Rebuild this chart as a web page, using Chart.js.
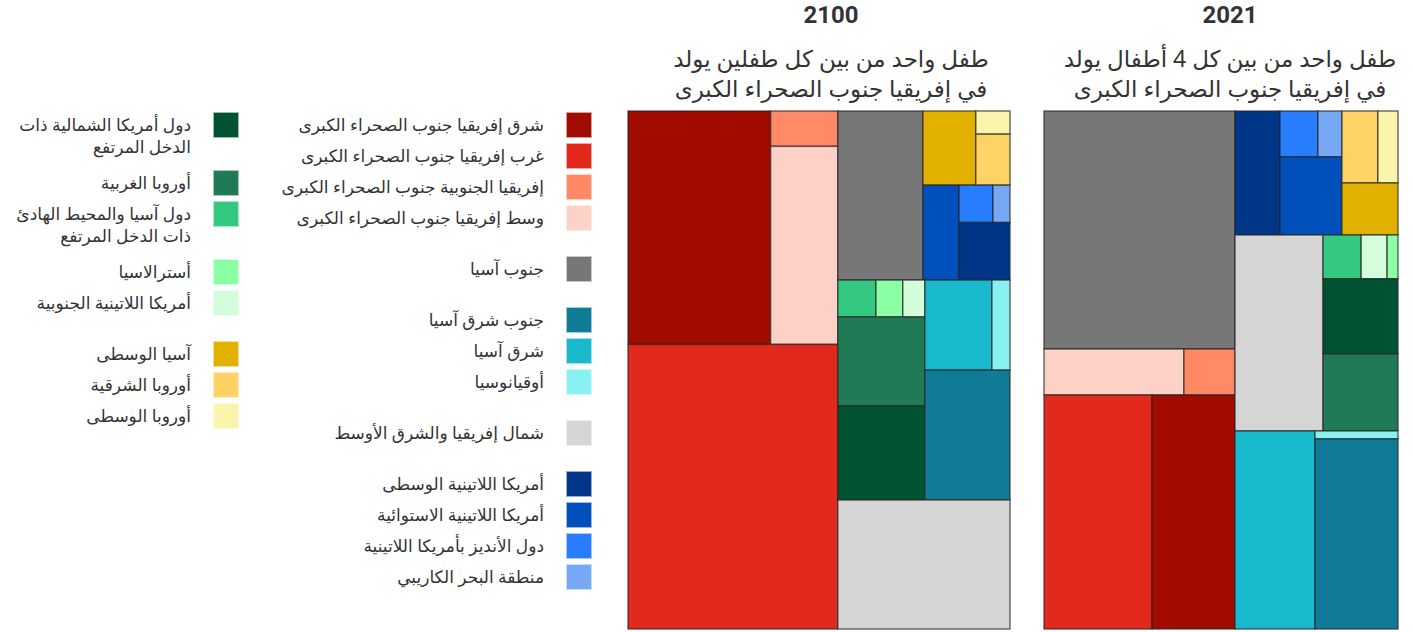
<!DOCTYPE html>
<html lang="ar">
<head>
<meta charset="utf-8">
<script src="https://cdn.jsdelivr.net/npm/chart.js@4.4.1/dist/chart.umd.min.js"></script>
<style>
  html, body { margin: 0; padding: 0; background: #fff; overflow: hidden; }
  body { width: 1413px; height: 632px; position: relative; font-family: "Noto Sans", "DejaVu Sans", sans-serif; color: #333; }
  .year { position: absolute; top: 0; width: 400px; text-align: center; font: bold 24px/30px Roboto, "Liberation Sans", sans-serif; color: #333; }
  .sub { position: absolute; top: 43px; width: 400px; text-align: center; font-size: 23px; line-height: 30px; color: #333; direction: rtl; }
  .legend { position: absolute; top: 112px; direction: rtl; }
  .group { margin-bottom: 20px; }
  .item { display: flex; align-items: flex-start; }
  .sw { width: 26px; height: 26px; flex: none; border: 1px solid rgba(255,255,255,0.6); box-sizing: border-box; }
  .lbl { font-size: 17px; line-height: 22px; padding: 2px 0 7px; }
  .wrap { position: absolute; }
</style>
</head>
<body>
<div class="year" style="left:631px">2100</div>
<div class="sub" style="left:631px">طفل واحد من بين كل طفلين يولد<br>في إفريقيا جنوب الصحراء الكبرى</div>
<div class="year" style="left:1030px">2021</div>
<div class="sub" style="left:1030px">طفل واحد من بين كل 4 أطفال يولد<br>في إفريقيا جنوب الصحراء الكبرى</div>

<div id="legend1" class="legend" style="left:0; width:239px"></div>
<div id="legend2" class="legend" style="left:260px; width:332px"></div>

<div class="wrap" style="left:626px; top:109px"><canvas id="chart2100" width="386" height="522"></canvas></div>
<div class="wrap" style="left:1042px; top:109px"><canvas id="chart2021" width="358" height="522"></canvas></div>

<script>
// regions, in legend order
const regionNames = [
  'شرق إفريقيا جنوب الصحراء الكبرى',
  'غرب إفريقيا جنوب الصحراء الكبرى',
  'إفريقيا الجنوبية جنوب الصحراء الكبرى',
  'وسط إفريقيا جنوب الصحراء الكبرى',
  'جنوب آسيا',
  'جنوب شرق آسيا',
  'شرق آسيا',
  'أوقيانوسيا',
  'شمال إفريقيا والشرق الأوسط',
  'أمريكا اللاتينية الوسطى',
  'أمريكا اللاتينية الاستوائية',
  'دول الأنديز بأمريكا اللاتينية',
  'منطقة البحر الكاريبي',
  'دول أمريكا الشمالية ذات الدخل المرتفع',
  'أوروبا الغربية',
  'دول آسيا والمحيط الهادئ ذات الدخل المرتفع',
  'أسترالاسيا',
  'أمريكا اللاتينية الجنوبية',
  'آسيا الوسطى',
  'أوروبا الشرقية',
  'أوروبا الوسطى'
];

const regionColors = [
  '#a10b00', '#e2291c', '#ff8a65', '#fed1c6',
  '#767776',
  '#0f7b96', '#18b8cd', '#88f2f2',
  '#d5d5d5',
  '#003688', '#004fbb', '#277dfe', '#77a8f4',
  '#005230', '#1f7a55', '#33c980', '#8bffa4', '#d4fddb',
  '#e2b100', '#fdd366', '#fbf4ab'
];

// share of global births (%), same order as regionNames
const births2100 = [16.8, 30.14, 1.2, 6.72, 7.26, 5.58, 3.05, 0.82, 11.21, 1.48, 1.73, 0.64, 0.32, 4.13, 3.91, 0.71, 0.5, 0.41, 1.98, 0.88, 0.4];
const births2021 = [10.59, 13.78, 1.28, 3.51, 24.79, 8.6, 8.64, 0.36, 9.41, 3.04, 2.64, 0.95, 0.6, 3.07, 3.15, 0.91, 0.26, 0.62, 1.59, 1.41, 0.79];

// treemap nesting: 'h' = side by side, 'v' = stacked
const tree2100 = ['h',
  ['v', ['h', 0, ['v', 2, 3]], 1],
  ['v',
    ['h', 4, ['v', ['h', 18, ['v', 20, 19]], ['h', 10, ['v', ['h', 11, 12], 9]]]],
    ['h', ['v', ['h', 15, 16, 17], 14, 13], ['v', ['h', 6, 7], 5]],
    8]
];
const tree2021 = ['h',
  ['v', 4, ['h', 3, 2], ['h', 1, 0]],
  ['v',
    ['h', ['h', 9, ['v', ['h', 11, 12], 10]], ['v', ['h', 19, 20], 18]],
    ['h', 8, ['v', ['h', 15, 17, 16], 13, 14]],
    ['h', 6, ['v', 7, 5]]]
];

// legend columns -> groups of region indices
const legendCol1 = [[13, 14, 15, 16, 17], [18, 19, 20]];
const legendCol2 = [[0, 1, 2, 3], [4], [5, 6, 7], [8], [9, 10, 11, 12]];

function buildLegend(el, groups, textWidth) {
  groups.forEach(g => {
    const gd = document.createElement('div');
    gd.className = 'group';
    g.forEach(i => {
      const it = document.createElement('div');
      it.className = 'item';
      const sw = document.createElement('div');
      sw.className = 'sw';
      sw.style.background = regionColors[i];
      const lb = document.createElement('div');
      lb.className = 'lbl';
      lb.style.marginRight = '22px';
      lb.textContent = regionNames[i];
      if (textWidth) lb.style.width = textWidth + 'px'; else lb.style.whiteSpace = 'nowrap';
      it.appendChild(sw);
      it.appendChild(lb);
      gd.appendChild(it);
    });
    el.appendChild(gd);
  });
  el.querySelectorAll('.lbl').forEach(lb => {
    if (lb.offsetHeight > 35) lb.style.paddingBottom = '12px';
  });
}
buildLegend(document.getElementById('legend1'), legendCol1, 191);
buildLegend(document.getElementById('legend2'), legendCol2, 0);

function sumNode(node, vals) {
  if (typeof node === 'number') return vals[node];
  return node.slice(1).reduce((s, n) => s + sumNode(n, vals), 0);
}

function layoutNode(node, vals, x0, y0, x1, y1, out) {
  if (typeof node === 'number') {
    out.push({ i: node, x0, y0, x1, y1 });
    return;
  }
  const dir = node[0];
  const kids = node.slice(1);
  const total = sumNode(node, vals);
  let pos = dir === 'h' ? x0 : y0;
  kids.forEach(k => {
    const frac = sumNode(k, vals) / total;
    if (dir === 'h') {
      const next = pos + (x1 - x0) * frac;
      layoutNode(k, vals, pos, y0, next, y1, out);
      pos = next;
    } else {
      const next = pos + (y1 - y0) * frac;
      layoutNode(k, vals, x0, pos, x1, next, out);
      pos = next;
    }
  });
}

const treemapCells = {
  id: 'treemapCells',
  afterDatasetsDraw(chart, args, opts) {
    const { ctx, scales } = chart;
    const cells = [];
    layoutNode(opts.tree, opts.values, 0, 0, 1, 1, cells);
    ctx.save();
    cells.forEach(c => {
      const px0 = scales.x.getPixelForValue(c.x0);
      const px1 = scales.x.getPixelForValue(c.x1);
      const py0 = scales.y.getPixelForValue(c.y0);
      const py1 = scales.y.getPixelForValue(c.y1);
      ctx.fillStyle = regionColors[c.i];
      ctx.fillRect(px0, py0, px1 - px0, py1 - py0);
      ctx.strokeStyle = 'rgba(35,35,35,0.65)';
      ctx.lineWidth = 1.5;
      ctx.strokeRect(px0, py0, px1 - px0, py1 - py0);
    });
    ctx.restore();
  }
};

function makeChart(id, values, tree) {
  return new Chart(document.getElementById(id), {
    type: 'scatter',
    data: { datasets: [{ data: [] }] },
    options: {
      responsive: false,
      animation: false,
      layout: { padding: 2 },
      scales: {
        x: { type: 'linear', min: 0, max: 1, display: false },
        y: { type: 'linear', min: 0, max: 1, reverse: true, display: false }
      },
      plugins: {
        legend: { display: false },
        tooltip: { enabled: false },
        treemapCells: { tree: tree, values: values }
      }
    },
    plugins: [treemapCells]
  });
}

makeChart('chart2100', births2100, tree2100);
makeChart('chart2021', births2021, tree2021);
</script>
</body>
</html>
